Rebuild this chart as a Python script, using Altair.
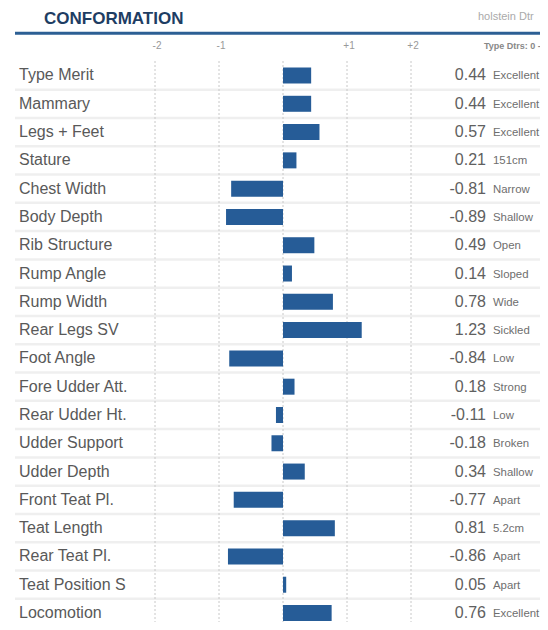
import altair as alt
import pandas as pd

names = ["Type Merit", "Mammary", "Legs + Feet", "Stature", "Chest Width", "Body Depth",
         "Rib Structure", "Rump Angle", "Rump Width", "Rear Legs SV", "Foot Angle",
         "Fore Udder Att.", "Rear Udder Ht.", "Udder Support", "Udder Depth",
         "Front Teat Pl.", "Teat Length", "Rear Teat Pl.", "Teat Position S", "Locomotion"]
values = [0.44, 0.44, 0.57, 0.21, -0.81, -0.89, 0.49, 0.14, 0.78, 1.23, -0.84,
          0.18, -0.11, -0.18, 0.34, -0.77, 0.81, -0.86, 0.05, 0.76]
descs = ["Excellent", "Excellent", "Excellent", "151cm", "Narrow", "Shallow", "Open",
         "Sloped", "Wide", "Sickled", "Low", "Strong", "Low", "Broken", "Shallow",
         "Apart", "5.2cm", "Apart", "Apart", "Excellent"]
grid_vals = [-2, -1, 0, 1, 2]
tick_vals = [-2, -1, 1, 2]
tick_labels = ["-2", "-1", "+1", "+2"]
title_text = "CONFORMATION"
logo_text = "holstein Dtr"
corner_text = "Type Dtrs: 0 -"

df = pd.DataFrame({"name": names, "value": values, "desc": descs,
                   "vtxt": [f"{v:.2f}" for v in values]})
grid_df = pd.DataFrame({"g": grid_vals})
tick_df = pd.DataFrame({"t": tick_vals, "lab": tick_labels})
one = pd.DataFrame({"title": [title_text], "logo": [logo_text], "corner": [corner_text]})

W, H = 532, 614
xscale = alt.Scale(domain=[-275 / 64, (W - 275) / 64], nice=False, zero=False)
yscale = alt.Scale(domain=names, range=[53.35, 619.15], paddingInner=0, paddingOuter=0)
FONT = "Liberation Sans"

base = alt.Chart(df)
Y = dict(shorthand="name:N", sort=names, scale=yscale, axis=None)

sep = base.mark_rule(color="#efefef", strokeWidth=2.5).encode(
    y=alt.Y(bandPosition=1, **Y),
    x=alt.value(7), x2=alt.value(W))

grid = alt.Chart(grid_df).mark_rule(color="#c8c8c8", strokeWidth=1, strokeDash=[2, 2]).encode(
    x=alt.X("g:Q", scale=xscale, axis=None), y=alt.value(53), y2=alt.value(640))

ticks = alt.Chart(tick_df).mark_text(font=FONT, fontSize=10, color="#999999", dx=2,
                                     baseline="middle").encode(
    x=alt.X("t:Q", scale=xscale, axis=None), y=alt.value(38), text="lab:N")

bars = base.mark_bar(color="#265c97", size=16).encode(
    y=alt.Y(**Y),
    x=alt.X("value:Q", scale=xscale, axis=None), x2=alt.datum(0))

labels = base.mark_text(font=FONT, fontSize=16, color="#595959", align="left",
                        baseline="middle").encode(
    y=alt.Y(**Y), x=alt.value(11), text="name:N")

vals = base.mark_text(font=FONT, fontSize=16, color="#606060", align="right",
                      baseline="middle").encode(
    y=alt.Y(**Y), x=alt.value(478), text="vtxt:N")

dsc = base.mark_text(font=FONT, fontSize=11.4, color="#6e6e6e", align="left",
                     baseline="middle", dy=1).encode(
    y=alt.Y(**Y), x=alt.value(485), text="desc:N")

top = alt.Chart(one)
title = top.mark_text(font=FONT, fontSize=17, fontWeight="bold", color="#1e3d63",
                      align="left", baseline="alphabetic").encode(
    x=alt.value(36), y=alt.value(15.5), text="title:N")
line = top.mark_rule(color="#2c5f94", strokeWidth=3).encode(
    x=alt.value(7), x2=alt.value(W), y=alt.value(25.3))
logo = top.mark_text(font=FONT, fontSize=11, color="#aaaaaa", align="left",
                     baseline="middle").encode(
    x=alt.value(470), y=alt.value(9), text="logo:N")
corner = top.mark_text(font=FONT, fontSize=9, fontWeight="bold", color="#888888",
                       align="left", baseline="middle").encode(
    x=alt.value(476), y=alt.value(38), text="corner:N")

chart = alt.layer(sep, grid, ticks, bars, labels, vals, dsc, title, line, logo, corner).properties(
    width=W, height=H, padding=0, autosize=alt.AutoSizeParams(type="none")
).configure_view(stroke=None)

chart.save("out.html", embed_options={"renderer": "svg", "actions": False})
